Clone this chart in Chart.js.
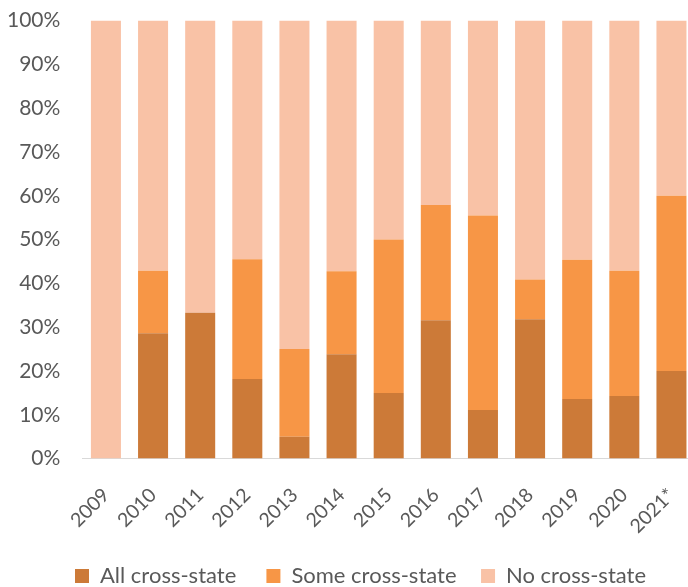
<!DOCTYPE html>
<html>
<head>
<meta charset="utf-8">
<script src="https://cdn.jsdelivr.net/npm/chart.js@4"></script>
<style>
  html, body { margin: 0; padding: 0; background: #fff; overflow: hidden; }
  #wrap { width: 713px; height: 601px; margin-top: -14px; }
</style>
</head>
<body>
<div id="wrap"><canvas id="chart"></canvas></div>
<script>
const years = ["2009", "2010", "2011", "2012", "2013", "2014", "2015", "2016", "2017", "2018", "2019", "2020", "2021*"];
const allCross = [0, 28.6, 33.3, 18.2, 5, 23.8, 15, 31.6, 11.1, 31.8, 13.6, 14.3, 20];
const someCross = [0, 14.3, 0, 27.3, 20, 19.0, 35, 26.3, 44.4, 9.1, 31.8, 28.6, 40];
const noCross = [100, 57.1, 66.7, 54.5, 75, 57.2, 50, 42.1, 44.5, 59.1, 54.6, 57.1, 40];

const ctx = document.getElementById("chart").getContext("2d");
Chart.defaults.font.family = "Lato, 'Open Sans', sans-serif";
Chart.defaults.color = "#595959";

// trailing spaces after each legend entry (gap to the next one)
const legendGaps = ["     ", "    ", ""];

const myChart = new Chart(ctx, {
  type: "bar",
  data: {
    labels: years,
    datasets: [
      {
        label: "All cross-state",
        data: allCross,
        backgroundColor: "#CC7A38",
        barPercentage: 0.637,
        categoryPercentage: 1,
      },
      {
        label: "Some cross-state",
        data: someCross,
        backgroundColor: "#F79646",
        barPercentage: 0.637,
        categoryPercentage: 1,
      },
      {
        label: "No cross-state",
        data: noCross,
        backgroundColor: "#F9C2A6",
        barPercentage: 0.637,
        categoryPercentage: 1,
      },
    ],
  },
  options: {
    responsive: true,
    maintainAspectRatio: false,
    animation: false,
    layout: {
      padding: { top: 0, left: -15, right: -23, bottom: -10 },
    },
    plugins: {
      tooltip: { enabled: false },
      legend: {
        position: "bottom",
        labels: {
          boxWidth: 14,
          boxHeight: 14,
          padding: 2,
          color: "#595959",
          font: { size: 22 },
          generateLabels: (chart) =>
            Chart.defaults.plugins.legend.labels.generateLabels(chart).map((l, i) => {
              l.text += legendGaps[i];
              return l;
            }),
        },
      },
    },
    scales: {
      x: {
        stacked: true,
        grid: { display: false, drawTicks: false },
        border: { display: true, color: "#D9D9D9", width: 1 },
        ticks: {
          minRotation: 45,
          maxRotation: 45,
          padding: 25,
          color: "#595959",
          font: { size: 19.5 },
        },
      },
      y: {
        stacked: true,
        min: 0,
        max: 100,
        grid: { display: false, drawTicks: false },
        border: { display: false },
        ticks: {
          stepSize: 10,
          padding: 22,
          color: "#595959",
          font: { size: 21 },
          callback: (v) => v + "%",
        },
      },
    },
  },
});
</script>
</body>
</html>
